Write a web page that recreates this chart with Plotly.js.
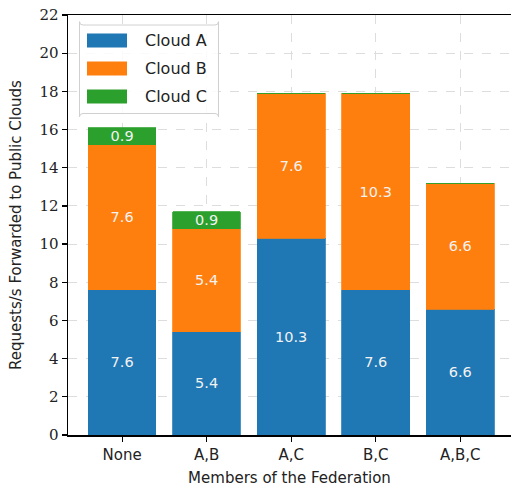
<!DOCTYPE html>
<html>
<head>
<meta charset="utf-8">
<script src="https://cdn.plot.ly/plotly-3.0.1.min.js"></script>
<style>
  html, body { margin: 0; padding: 0; background: #fff; }
  #chart { width: 511px; height: 492px; }
</style>
</head>
<body>
<div id="chart"></div>
<script>
// Federation configurations and the request rate forwarded to each public cloud
const members = ['None', 'A,B', 'A,C', 'B,C', 'A,B,C'];
const cloudA = [7.6, 5.4, 10.3, 7.6, 6.6];
const cloudB = [7.6, 5.4, 7.6, 10.3, 6.6];
const cloudC = [0.9, 0.9, 0.0, 0.0, 0.0];
const seriesNames = ['Cloud A', 'Cloud B', 'Cloud C'];
const seriesColors = ['#1f77b4', '#ff7f0e', '#2ca02c'];
const yTicks = [0, 2, 4, 6, 8, 10, 12, 14, 16, 18, 20, 22];

const sans = 'DejaVu Sans';
const serif = 'DejaVu Serif';

// plot area in pixels
const W = 511, H = 492;
const M = { l: 68, r: 0, t: 15, b: 57 };
const px = x => (x - M.l) / (W - M.l - M.r);
const py = y => 1 - (y - M.t) / (H - M.t - M.b);

function series(name, values, color) {
  return {
    type: 'bar',
    name: name,
    x: members,
    y: values,
    width: 0.8,
    marker: { color: color, line: { color: color, width: 0.8 } },
    text: values.map(v => (v > 0 ? v.toFixed(1) : '')),
    textposition: 'inside',
    insidetextanchor: 'middle',
    textangle: 0,
    constraintext: 'none',
    textfont: { family: sans, size: 14.5, color: '#f2f2f2' },
    hoverinfo: 'skip',
    showlegend: false
  };
}

const data = [
  series(seriesNames[0], cloudA, seriesColors[0]),
  series(seriesNames[1], cloudB, seriesColors[1]),
  series(seriesNames[2], cloudC, seriesColors[2])
];

// legend box drawn as shapes + annotations (wide swatches)
function roundedRect(x0, y0, x1, y1, r) {
  return `M${x0 + r},${y0} L${x1 - r},${y0} Q${x1},${y0} ${x1},${y0 + r} ` +
         `L${x1},${y1 - r} Q${x1},${y1} ${x1 - r},${y1} L${x0 + r},${y1} ` +
         `Q${x0},${y1} ${x0},${y1 - r} L${x0},${y0 + r} Q${x0},${y0} ${x0 + r},${y0} Z`;
}
const shapes = [{
  type: 'path', xref: 'x domain', yref: 'y domain', layer: 'above',
  path: roundedRect(px(79.5), py(25), px(218.5), py(113.5), 0.008),
  fillcolor: 'rgba(255,255,255,0.85)', line: { color: '#d0d0d0', width: 1 }
}];
const annotations = [];
seriesNames.forEach((n, i) => {
  const yc = 40.5 + i * 28;
  shapes.push({
    type: 'rect', xref: 'x domain', yref: 'y domain', layer: 'above',
    x0: px(87), x1: px(127), y0: py(yc - 7), y1: py(yc + 7),
    fillcolor: seriesColors[i], line: { width: 0 }
  });
  annotations.push({
    xref: 'x domain', yref: 'y domain', x: px(143), y: py(yc),
    xanchor: 'left', yanchor: 'middle', showarrow: false, text: n,
    font: { family: sans, size: 16, color: '#222' }
  });
});

const layout = {
  width: W,
  height: H,
  margin: M,
  barmode: 'stack',
  paper_bgcolor: '#fff',
  plot_bgcolor: '#fff',
  showlegend: false,
  shapes: shapes,
  annotations: annotations,
  xaxis: {
    type: 'category',
    range: [-0.64, 4.6],
    showline: true, linecolor: '#000', linewidth: 1.5, mirror: true,
    ticks: 'outside', ticklen: 5, tickwidth: 1.2, tickcolor: '#000',
    showgrid: true, gridcolor: '#dddddd', griddash: 'dash', gridwidth: 1,
    tickfont: { family: sans, size: 15, color: '#222' },
    title: { text: 'Members of the Federation', font: { family: sans, size: 15, color: '#222' }, standoff: 10 },
    zeroline: false
  },
  yaxis: {
    range: [0, 22],
    tickvals: yTicks,
    ticktext: yTicks.map(String),
    showline: true, linecolor: '#000', linewidth: 1.5,
    ticks: 'outside', ticklen: 5, tickwidth: 1.2, tickcolor: '#000',
    showgrid: true, gridcolor: '#dddddd', griddash: 'dash', gridwidth: 1,
    tickfont: { family: serif, size: 15, color: '#222' },
    title: { text: 'Requests/s Forwarded to Public Clouds', font: { family: sans, size: 15, color: '#222' }, standoff: 14 },
    zeroline: false
  },
  bargap: 0.2
};

Plotly.newPlot('chart', data, layout, { staticPlot: true, displayModeBar: false });
</script>
</body>
</html>
